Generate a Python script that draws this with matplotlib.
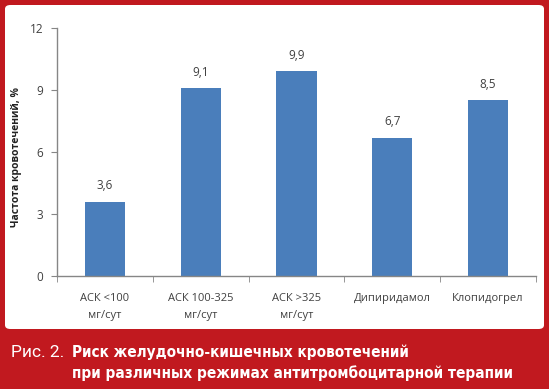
import matplotlib
matplotlib.use('Agg')
from matplotlib import pyplot as plt
from matplotlib.patches import FancyBboxPatch

# data
categories = ['АСК <100\nмг/сут', 'АСК 100-325\nмг/сут', 'АСК >325\nмг/сут',
              'Дипиридамол', 'Клопидогрел']
values = [3.6, 9.1, 9.9, 6.7, 8.5]
value_labels = ['3,6', '9,1', '9,9', '6,7', '8,5']
yticks = [0, 3, 6, 9, 12]

RED = '#c1191f'
BLUE = '#4a7ebb'
GREY = '#404040'
AXIS = '#868686'

plt.rcParams['font.family'] = ['Open Sans', 'DejaVu Sans']

fig = plt.figure(figsize=(5.49, 3.89), dpi=100)
fig.patch.set_facecolor(RED)

# white panel with rounded corners
W, H = 549, 389
panel = FancyBboxPatch((5 / W, 60 / H), 539 / W, 324 / H,
                       boxstyle='round,pad=0,rounding_size=0.01',
                       transform=fig.transFigure, facecolor='white',
                       edgecolor='none', zorder=-5)
fig.patches.append(panel)

ax = fig.add_axes([57 / W, 113 / H, 479 / W, 248 / H])
ax.set_zorder(2)
ax.set_facecolor('none')
x = range(len(values))
ax.bar(x, values, width=0.42, color=BLUE, zorder=2)
for xi, v, lab in zip(x, values, value_labels):
    ax.text(xi, v + 0.45, lab, ha='center', va='bottom', fontsize=8.5, color=GREY)

ax.set_xlim(-0.5, len(values) - 0.5)
ax.set_ylim(0, 12)
ax.set_yticks(yticks)
ax.set_yticklabels([str(t) for t in yticks], fontsize=8.5, color=GREY)
ax.set_xticks(list(x))
ax.set_xticklabels(categories, fontsize=8, color=GREY, linespacing=1.8)
ax.set_xticks([i - 0.5 for i in range(len(values) + 1)], minor=True)
ax.tick_params(axis='x', which='major', length=0, pad=12)
ax.tick_params(axis='x', which='minor', length=4, color=AXIS, direction='out')
ax.tick_params(axis='y', length=4, color=AXIS, direction='out', pad=6)
for s in ['top', 'right']:
    ax.spines[s].set_visible(False)
for s in ['left', 'bottom']:
    ax.spines[s].set_color(AXIS)
    ax.spines[s].set_linewidth(1)

fig.text(17 / W, 1 - 157 / H, 'Частота кровотечений, %', rotation=90,
         ha='center', va='center', fontsize=7.5, fontweight='bold', color='#222222')

# caption
cap_font = ['DejaVu Sans']
fig.text(11 / W, 1 - 357 / H, 'Рис. 2.', fontsize=12.5, color='white',
         family=['Roboto', 'DejaVu Sans'], va='baseline', ha='left')
fig.text(72 / W, 1 - 357 / H, 'Риск желудочно-кишечных кровотечений', fontsize=11,
         color='white', family=cap_font, fontweight='bold', fontstretch='condensed',
         va='baseline', ha='left')
fig.text(72 / W, 1 - 378 / H, 'при различных режимах антитромбоцитарной терапии',
         fontsize=11, color='white', family=cap_font, fontweight='bold',
         fontstretch='condensed', va='baseline', ha='left')

fig.savefig('out.png', dpi=100, facecolor=fig.get_facecolor())
